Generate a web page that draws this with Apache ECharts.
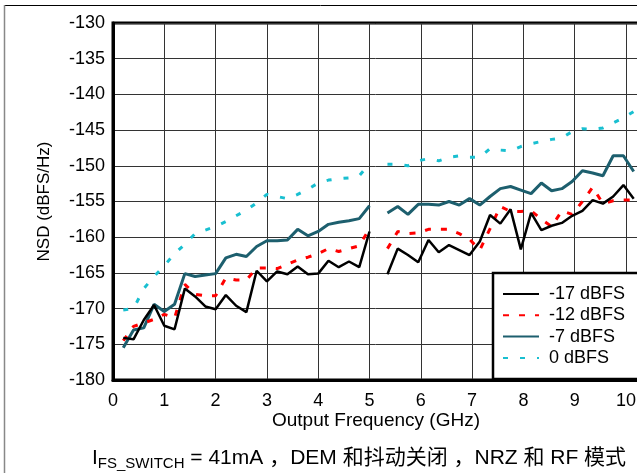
<!DOCTYPE html>
<html><head><meta charset="utf-8">
<script src="https://cdn.jsdelivr.net/npm/echarts@6/dist/echarts.min.js"></script>
<style>html,body{margin:0;padding:0;background:#fff}#c{width:637px;height:473px}</style>
</head><body><div id="c"></div>
<script>
// Frequencies (GHz) of the two measured segments
const freqA = [0.2,0.4,0.6,0.8,1.0,1.2,1.4,1.6,1.8,2.0,2.2,2.4,2.6,2.8,3.0,3.2,3.4,3.6,3.8,4.0,4.2,4.4,4.6,4.8,5.0];
const freqB = [5.35,5.55,5.75,5.95,6.15,6.35,6.55,6.75,6.95,7.15,7.35,7.55,7.75,7.95,8.15,8.35,8.55,8.75,8.95,9.15,9.35,9.55,9.75,9.95,10.15];

// NSD values (dBFS/Hz)
const m17A = [-174.1,-174.3,-171.6,-169.5,-172.4,-172.9,-167.2,-168.3,-169.7,-170.1,-168.1,-169.6,-170.5,-164.7,-166.2,-164.8,-165.2,-164.1,-165.2,-165.1,-163.3,-164.2,-163.4,-164.2,-159.2];
const m17B = [-165.2,-161.6,-162.5,-163.5,-160.4,-162.1,-161.1,-161.8,-162.5,-160.6,-156.9,-158.1,-156.1,-161.7,-156.6,-159.0,-158.4,-158.0,-157.0,-156.3,-154.8,-155.3,-154.3,-152.7,-154.6];
const m12A = [-174.5,-172.5,-172.0,-171.5,-170.8,-171.3,-166.6,-168.0,-168.2,-168.2,-165.7,-166.0,-166.0,-164.3,-164.3,-164.4,-163.8,-163.2,-162.8,-162.3,-161.6,-162.0,-161.6,-161.2,-158.8];
const m12B = [-161.6,-159.2,-159.5,-159.4,-158.9,-158.9,-158.9,-159.5,-160.3,-161.8,-158.8,-155.7,-156.4,-156.4,-156.3,-157.5,-158.5,-156.3,-156.8,-155.0,-153.0,-155.3,-154.9,-154.8,-154.8];
const m7A  = [-175.5,-173.0,-172.7,-169.4,-170.4,-169.4,-165.1,-165.5,-165.3,-165.1,-162.9,-162.4,-162.7,-161.3,-160.5,-160.5,-160.4,-158.9,-159.8,-159.2,-158.2,-157.9,-157.7,-157.4,-155.6];
const m7B  = [-156.6,-155.7,-156.8,-155.4,-155.4,-155.5,-155.0,-155.5,-154.6,-155.5,-154.3,-153.2,-152.9,-153.4,-153.9,-152.4,-153.5,-153.2,-152.2,-150.7,-151.0,-151.4,-148.6,-148.6,-150.8];
const m0A  = [-170.2,-170.0,-167.2,-165.5,-164.0,-162.3,-161.0,-159.5,-159.0,-158.5,-157.8,-157.0,-156.2,-155.2,-154.0,-154.3,-154.6,-154.0,-153.3,-152.4,-152.0,-151.8,-151.7,-151.4,-149.7];
const m0B  = [-149.8,-149.8,-150.0,-149.3,-149.0,-149.3,-148.8,-148.6,-148.8,-148.8,-147.6,-147.8,-147.9,-147.3,-146.9,-146.6,-146.3,-146.1,-145.2,-144.8,-144.9,-144.7,-144.0,-143.3,-142.4];

const seriesNames = ['-17 dBFS','-12 dBFS','-7 dBFS','0 dBFS'];
const xTicks = [0,1,2,3,4,5,6,7,8,9,10];
const yTicks = [-180,-175,-170,-165,-160,-155,-150,-145,-140,-135,-130];

const FONT = '"Liberation Sans", Arial, "Noto Sans CJK SC", sans-serif';

function build(a, b) {
  const d = [];
  freqA.forEach((f, i) => d.push([f, a[i]]));
  d.push([5.2, '-']);
  freqB.forEach((f, i) => d.push([f, b[i]]));
  return d;
}

const chart = echarts.init(document.getElementById('c'), null, {renderer: 'canvas'});
chart.setOption({
  animation: false,
  backgroundColor: '#fff',
  grid: {left: 113, top: 23, width: 564.3, height: 357, show: true, borderColor: '#000', borderWidth: 3,
    backgroundColor: 'transparent', containLabel: false, outerBoundsMode: 'none'},
  xAxis: {
    type: 'value', min: 0, max: 11, interval: 1,
    axisLine: {show: true, onZero: false, lineStyle: {color: '#000', width: 3}},
    axisTick: {show: false},
    axisLabel: {fontSize: 18, color: '#000', fontFamily: FONT, margin: 12,
      formatter: v => xTicks.includes(v) ? String(v) : ''},
    splitLine: {show: true, lineStyle: {color: '#333', width: 1}}
  },
  yAxis: {
    type: 'value', min: -180, max: -130, interval: 5,
    axisLine: {show: true, onZero: false, lineStyle: {color: '#000', width: 3}},
    axisTick: {show: false},
    axisLabel: {fontSize: 18, color: '#000', fontFamily: FONT, margin: 8,
      formatter: v => yTicks.includes(v) ? String(v) : ''},
    splitLine: {show: true, lineStyle: {color: '#333', width: 1}},
    name: 'NSD (dBFS/Hz)', nameLocation: 'middle', nameGap: 60,
    nameTextStyle: {fontSize: 17, color: '#000', fontFamily: FONT}
  },
  legend: {
    orient: 'vertical', left: 493, top: 273,
    padding: [12, 60, 12, 9],
    itemWidth: 36, itemHeight: 14, itemGap: 3.3,
    backgroundColor: '#fff', borderColor: '#000', borderWidth: 2.5, borderRadius: 0,
    itemStyle: {opacity: 0},
    textStyle: {fontSize: 18, color: '#000', fontFamily: FONT, padding: [0, 0, 0, 5]},
    data: seriesNames
  },
  series: [
    {name: seriesNames[0], type: 'line', symbol: 'none', connectNulls: false, z: 5,
      lineStyle: {color: '#000', width: 2.5}, itemStyle: {color: '#000'}, data: build(m17A, m17B)},
    {name: seriesNames[1], type: 'line', symbol: 'none', connectNulls: false, z: 4,
      lineStyle: {color: '#ff0000', width: 3, type: [6, 10]}, itemStyle: {color: '#ff0000'}, data: build(m12A, m12B)},
    {name: seriesNames[2], type: 'line', symbol: 'none', connectNulls: false, z: 3,
      lineStyle: {color: '#1d5f6e', width: 3}, itemStyle: {color: '#1d5f6e'}, data: build(m7A, m7B)},
    {name: seriesNames[3], type: 'line', symbol: 'none', connectNulls: false, z: 2,
      lineStyle: {color: '#19bfd0', width: 3, type: [5, 12]}, itemStyle: {color: '#19bfd0'}, data: build(m0A, m0B)}
  ],
  graphic: [
    {type: 'line', shape: {x1: 4, y1: 5.5, x2: 637, y2: 5.5}, style: {stroke: '#000', lineWidth: 1}, silent: true},
    {type: 'line', shape: {x1: 4.5, y1: 5, x2: 4.5, y2: 473}, style: {stroke: '#888', lineWidth: 1.5}, silent: true},
    {type: 'text', x: 376, y: 421, silent: true,
      style: {text: 'Output Frequency (GHz)', fontSize: 19, fontFamily: FONT, fill: '#000', align: 'center', verticalAlign: 'middle'}},
    {type: 'text', x: 92, y: 458, silent: true,
      style: {text: '{a|I}{b|FS_SWITCH}{a| = 41mA ，DEM 和抖动关闭 ，NRZ 和 RF 模式}',
        fill: '#000', align: 'left', verticalAlign: 'middle',
        rich: {
          a: {fontSize: 21, fontFamily: FONT, fill: '#000'},
          b: {fontSize: 15, fontFamily: FONT, fill: '#000', padding: [11, 0, 0, 0]}
        }}}
  ]
});
</script>
</body></html>
